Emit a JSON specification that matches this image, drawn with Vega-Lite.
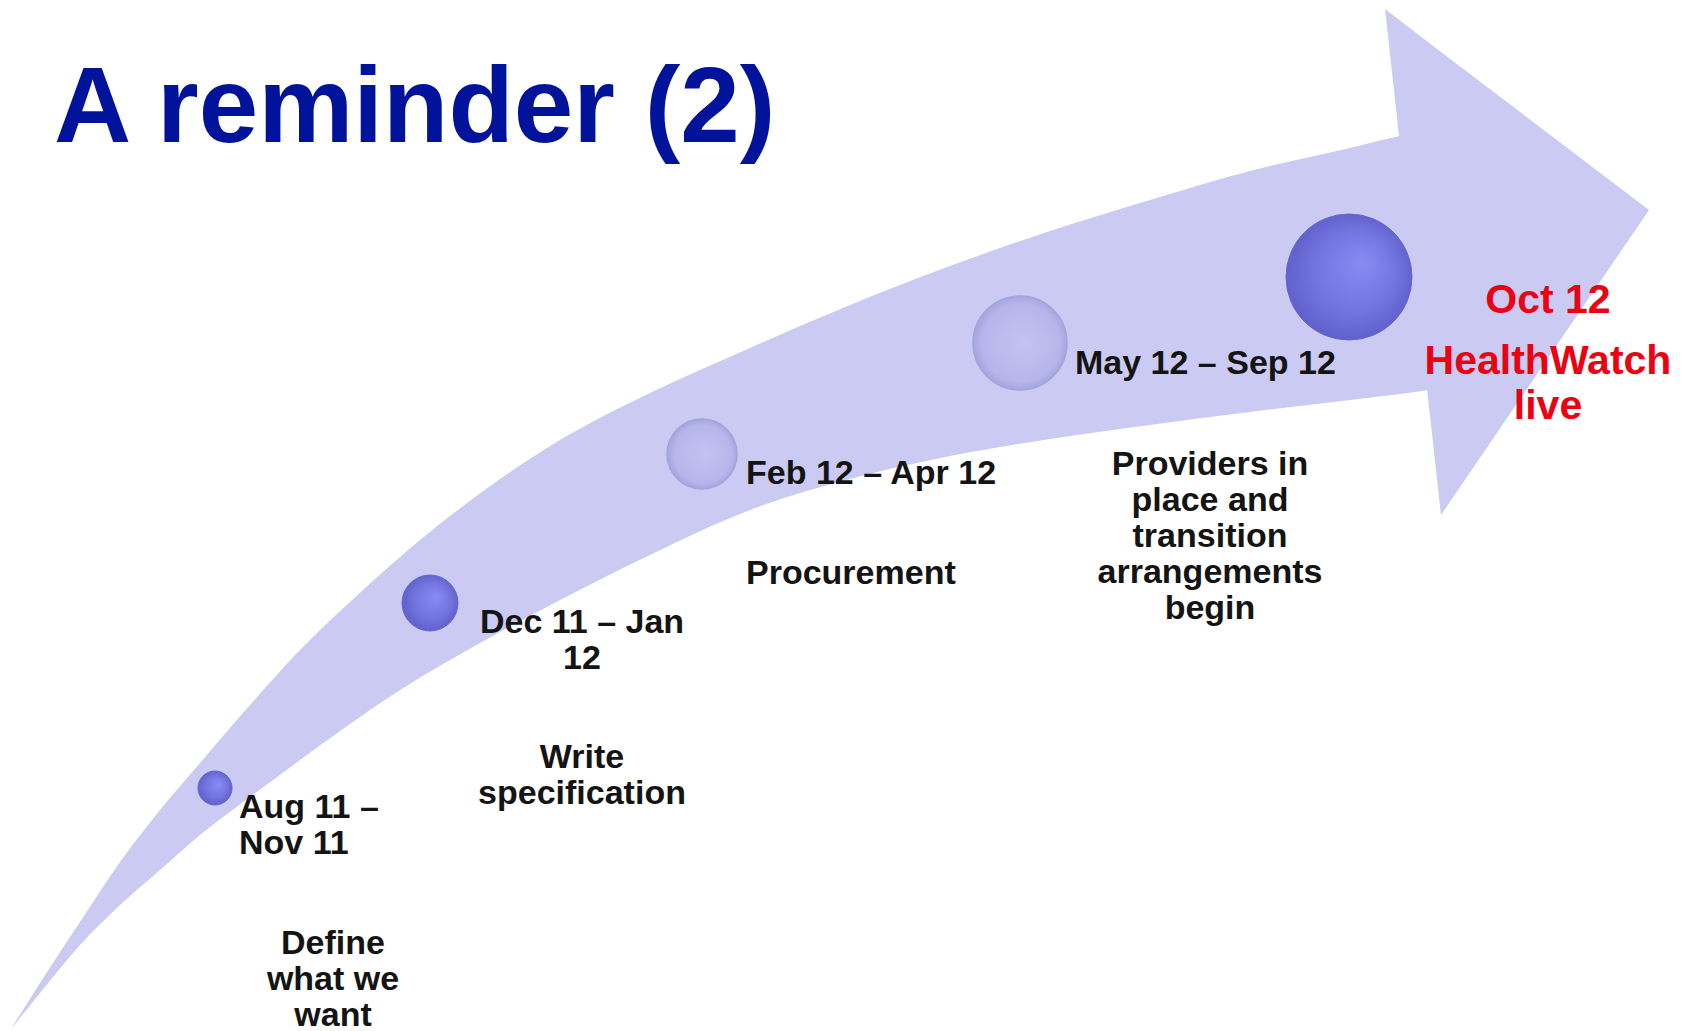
{
  "$schema": "https://vega.github.io/schema/vega-lite/v6.json",
  "autosize": "none",
  "padding": 0,
  "width": 1690,
  "height": 1031,
  "background": "white",
  "config": {"view": {"stroke": null}},
  "datasets": {
    "body": [
      {"x": 11, "upper": 1029, "lower": 1029},
      {"x": 40, "upper": 983, "lower": 993},
      {"x": 80, "upper": 922, "lower": 945},
      {"x": 120, "upper": 862, "lower": 905},
      {"x": 160, "upper": 810, "lower": 870},
      {"x": 200, "upper": 763, "lower": 835},
      {"x": 250, "upper": 705, "lower": 797},
      {"x": 300, "upper": 650, "lower": 760},
      {"x": 350, "upper": 602, "lower": 724},
      {"x": 400, "upper": 557, "lower": 690},
      {"x": 450, "upper": 516, "lower": 660},
      {"x": 500, "upper": 479, "lower": 632},
      {"x": 560, "upper": 440, "lower": 600},
      {"x": 650, "upper": 393, "lower": 555},
      {"x": 750, "upper": 348, "lower": 510},
      {"x": 850, "upper": 305, "lower": 479},
      {"x": 950, "upper": 266, "lower": 456},
      {"x": 1050, "upper": 231, "lower": 439},
      {"x": 1150, "upper": 200, "lower": 425},
      {"x": 1250, "upper": 171, "lower": 412},
      {"x": 1350, "upper": 148, "lower": 400},
      {"x": 1400, "upper": 136, "lower": 394},
      {"x": 1430, "upper": 130, "lower": 390}
    ],
    "head": [
      {"x": 1385, "upper": 9, "lower": 9},
      {"x": 1441, "upper": 52, "lower": 515},
      {"x": 1649, "upper": 210, "lower": 210}
    ],
    "darkMilestones": [
      {"milestone": "Aug 11", "x": 215, "y": 788},
      {"milestone": "Dec 11", "x": 430, "y": 603},
      {"milestone": "Oct 12", "x": 1349, "y": 277}
    ],
    "lightMilestones": [
      {"milestone": "Feb 12", "x": 702, "y": 454},
      {"milestone": "May 12", "x": 1020, "y": 343}
    ],
    "title": [
      {"label": "A reminder (2)", "x": 54, "y": 142}
    ],
    "leftLabels": [
      {"label": "Aug 11 –\nNov 11", "x": 239, "y": 818},
      {"label": "Feb 12 – Apr 12", "x": 746, "y": 484},
      {"label": "Procurement", "x": 746, "y": 584},
      {"label": "May 12 – Sep 12", "x": 1075, "y": 374}
    ],
    "centerLabels": [
      {"label": "Define\nwhat we\nwant", "x": 333, "y": 954},
      {"label": "Dec 11 – Jan\n12", "x": 582, "y": 633},
      {"label": "Write\nspecification", "x": 582, "y": 768},
      {"label": "Providers in\nplace and\ntransition\narrangements\nbegin", "x": 1210, "y": 475}
    ],
    "redLabels": [
      {"label": "Oct 12", "x": 1548, "y": 313},
      {"label": "HealthWatch\nlive", "x": 1548, "y": 374}
    ]
  },
  "layer": [
    {
      "data": {"name": "body"},
      "mark": {"type": "area", "interpolate": "monotone", "color": "#cacaf2", "opacity": 1},
      "encoding": {
        "x": {"field": "x", "type": "quantitative", "scale": {"domain": [0, 1690], "nice": false, "zero": false}, "axis": null},
        "y": {"field": "upper", "type": "quantitative", "scale": {"domain": [0, 1031], "nice": false, "zero": false, "reverse": true}, "axis": null},
        "y2": {"field": "lower"}
      }
    },
    {
      "data": {"name": "head"},
      "mark": {"type": "area", "interpolate": "linear", "color": "#cacaf2", "opacity": 1},
      "encoding": {
        "x": {"field": "x", "type": "quantitative", "scale": {"domain": [0, 1690], "nice": false, "zero": false}, "axis": null},
        "y": {"field": "upper", "type": "quantitative", "scale": {"domain": [0, 1031], "nice": false, "zero": false, "reverse": true}, "axis": null},
        "y2": {"field": "lower"}
      }
    },
    {
      "data": {"name": "darkMilestones"},
      "mark": {
        "type": "point", "shape": "circle", "filled": true, "opacity": 1,
        "fill": {"gradient": "radial", "x1": 0.62, "y1": 0.38, "r1": 0, "x2": 0.5, "y2": 0.5, "r2": 0.55,
          "stops": [{"offset": 0, "color": "#8a8af2"}, {"offset": 0.6, "color": "#7373de"}, {"offset": 1, "color": "#5c5cc8"}]},
        "stroke": "#6666ce", "strokeWidth": 1
      },
      "encoding": {
        "x": {"field": "x", "type": "quantitative", "scale": {"domain": [0, 1690], "nice": false, "zero": false}, "axis": null},
        "y": {"field": "y", "type": "quantitative", "scale": {"domain": [0, 1031], "nice": false, "zero": false, "reverse": true}, "axis": null},
        "size": {"field": "milestone", "type": "nominal", "legend": null,
          "scale": {"type": "ordinal", "domain": ["Aug 11", "Dec 11", "Feb 12", "May 12", "Oct 12"], "range": [1156, 3136, 4900, 8836, 15876]}}
      }
    },
    {
      "data": {"name": "lightMilestones"},
      "mark": {
        "type": "point", "shape": "circle", "filled": true, "opacity": 1,
        "fill": {"gradient": "radial", "x1": 0.55, "y1": 0.5, "r1": 0, "x2": 0.5, "y2": 0.5, "r2": 0.55,
          "stops": [{"offset": 0, "color": "#c2c2f2"}, {"offset": 0.75, "color": "#b6b6ec"}, {"offset": 1, "color": "#9c9cd8"}]},
        "stroke": "#a4a4dc", "strokeWidth": 1.5
      },
      "encoding": {
        "x": {"field": "x", "type": "quantitative", "scale": {"domain": [0, 1690], "nice": false, "zero": false}, "axis": null},
        "y": {"field": "y", "type": "quantitative", "scale": {"domain": [0, 1031], "nice": false, "zero": false, "reverse": true}, "axis": null},
        "size": {"field": "milestone", "type": "nominal", "legend": null,
          "scale": {"type": "ordinal", "domain": ["Aug 11", "Dec 11", "Feb 12", "May 12", "Oct 12"], "range": [1156, 3136, 4900, 8836, 15876]}}
      }
    },
    {
      "data": {"name": "title"},
      "mark": {"type": "text", "align": "left", "baseline": "alphabetic", "font": "Liberation Sans", "fontWeight": "bold", "fontSize": 107, "color": "#00139a"},
      "encoding": {
        "x": {"field": "x", "type": "quantitative", "scale": {"domain": [0, 1690], "nice": false, "zero": false}, "axis": null},
        "y": {"field": "y", "type": "quantitative", "scale": {"domain": [0, 1031], "nice": false, "zero": false, "reverse": true}, "axis": null},
        "text": {"field": "label"}
      }
    },
    {
      "data": {"name": "leftLabels"},
      "mark": {"type": "text", "align": "left", "baseline": "alphabetic", "lineBreak": "\n", "font": "Liberation Sans", "fontWeight": "bold", "fontSize": 34, "lineHeight": 36, "color": "#141414"},
      "encoding": {
        "x": {"field": "x", "type": "quantitative", "scale": {"domain": [0, 1690], "nice": false, "zero": false}, "axis": null},
        "y": {"field": "y", "type": "quantitative", "scale": {"domain": [0, 1031], "nice": false, "zero": false, "reverse": true}, "axis": null},
        "text": {"field": "label"}
      }
    },
    {
      "data": {"name": "centerLabels"},
      "mark": {"type": "text", "align": "center", "baseline": "alphabetic", "lineBreak": "\n", "font": "Liberation Sans", "fontWeight": "bold", "fontSize": 34, "lineHeight": 36, "color": "#141414"},
      "encoding": {
        "x": {"field": "x", "type": "quantitative", "scale": {"domain": [0, 1690], "nice": false, "zero": false}, "axis": null},
        "y": {"field": "y", "type": "quantitative", "scale": {"domain": [0, 1031], "nice": false, "zero": false, "reverse": true}, "axis": null},
        "text": {"field": "label"}
      }
    },
    {
      "data": {"name": "redLabels"},
      "mark": {"type": "text", "align": "center", "baseline": "alphabetic", "lineBreak": "\n", "font": "Liberation Sans", "fontWeight": "bold", "fontSize": 41, "lineHeight": 45, "color": "#ec0012"},
      "encoding": {
        "x": {"field": "x", "type": "quantitative", "scale": {"domain": [0, 1690], "nice": false, "zero": false}, "axis": null},
        "y": {"field": "y", "type": "quantitative", "scale": {"domain": [0, 1031], "nice": false, "zero": false, "reverse": true}, "axis": null},
        "text": {"field": "label"}
      }
    }
  ]
}
